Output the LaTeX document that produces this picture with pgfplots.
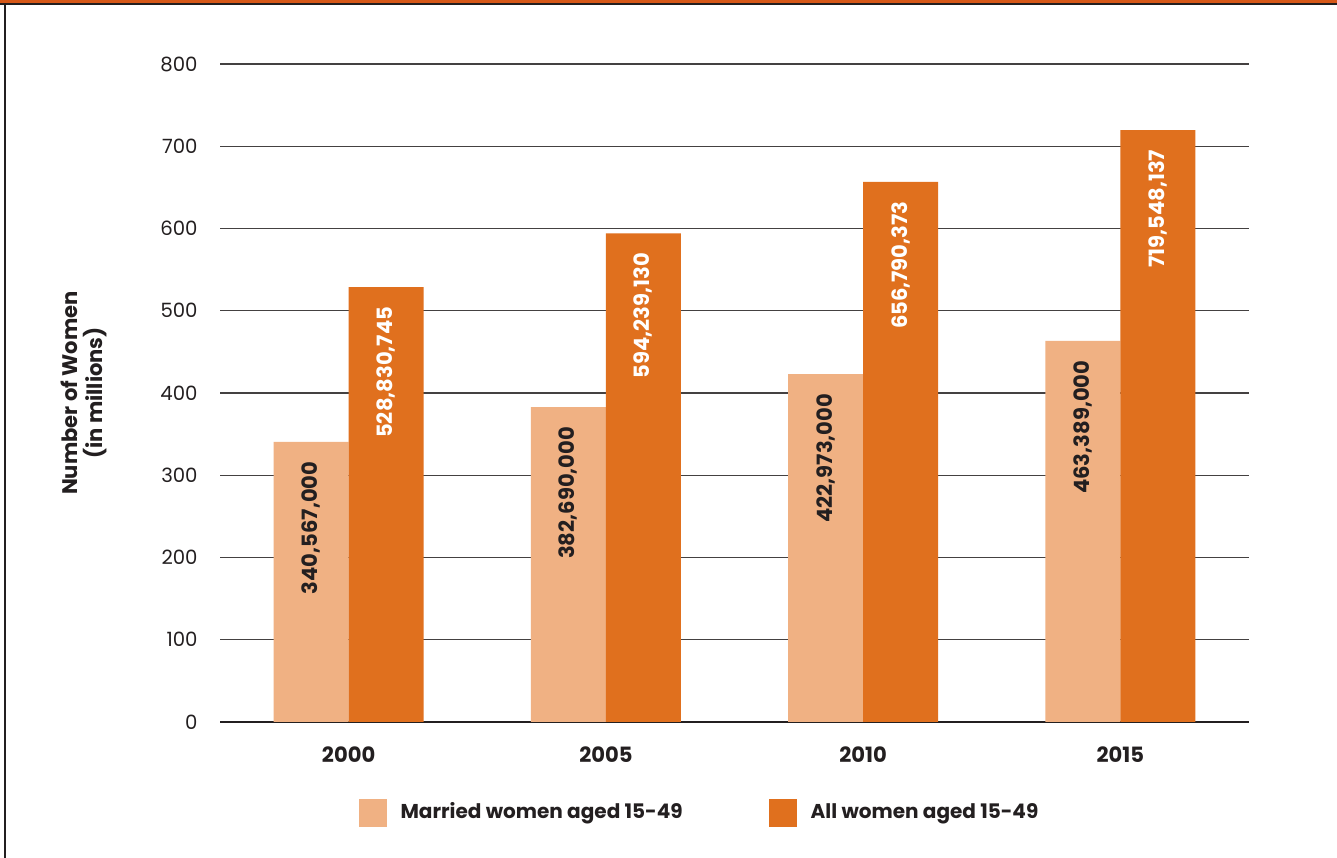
\documentclass[border=0pt]{standalone}
\usepackage{fontspec}
\setmainfont{Poppins}
\usepackage{pgfplots}
\usepackage{pgfplotstable}
\pgfplotsset{compat=1.18}

\definecolor{married}{RGB}{240,177,131}
\definecolor{allw}{RGB}{224,112,30}
\definecolor{ink}{RGB}{35,31,32}
\definecolor{frameorange}{RGB}{214,88,24}

\newcommand{\bfont}{\fontsize{6}{7.2}\selectfont\bfseries}
\newcommand{\lfont}{\fontsize{5.7}{6.8}\selectfont\bfseries}
\newcommand{\tfont}{\fontsize{5.6}{6.7}\selectfont}

% women aged 15-49, in millions, with the exact counts as labels
\pgfplotstableread{
x y lab
0 340.567 340,567,000
1 382.690 382,690,000
2 422.973 422,973,000
3 463.389 463,389,000
}\married
\pgfplotstableread{
x y lab
0 528.830745 528,830,745
1 594.239130 594,239,130
2 656.790373 656,790,373
3 719.548137 719,548,137
}\allwomen

\begin{document}
\begin{tikzpicture}
% page and frame
\fill[white] (0,0) rectangle (133.7mm,85.8mm);
\fill[frameorange] (0,85.52mm) rectangle (133.7mm,85.8mm);
\fill[ink] (0,85.32mm) rectangle (133.7mm,85.52mm);
\fill[ink] (0.38mm,0) rectangle (0.6mm,85.5mm);

\begin{axis}[
  at={(22mm,13.6mm)}, anchor=south west,
  scale only axis, width=102.9mm, height=65.8mm,
  xmin=-0.5, xmax=3.5, ymin=0, ymax=800,
  ybar=0pt, bar width=7.5mm,
  axis x line=bottom, axis y line=left,
  y axis line style={draw=none},
  x axis line style={draw=ink, line width=0.28mm, -},
  major tick length=0pt,
  xtick=data, xticklabels={2000,2005,2010,2015},
  ytick={0,100,...,800},
  ymajorgrids, grid style={draw=ink!85, line width=0.13mm},
  /pgf/number format/assume math mode=true,
  yticklabel style={font=\tfont, text=ink, xshift=-1.0mm},
  xticklabel style={font=\bfont, text=ink, yshift=-1.2mm},
  ylabel={Number of Women\\(in millions)},
  ylabel style={font=\bfont, text=ink, align=center,
    at={(axis description cs:-0.132,0.5)}, anchor=center},
  legend columns=2,
  legend style={draw=none, fill=none, font=\lfont, text=ink,
    at={(axis description cs:0.465,-0.139)}, anchor=center,
    nodes={inner sep=0pt},
    /tikz/every odd column/.append style={column sep=1.4mm},
    /tikz/every even column/.append style={column sep=8.6mm},
    inner sep=0pt},
  nodes near coords,
  point meta=explicit symbolic,
  every node near coord/.append style={rotate=90, anchor=east,
    font=\bfont, inner xsep=1.9mm},
]
\addplot[fill=married, draw=none,
  every node near coord/.append style={text=ink},
  legend image code/.code={\fill[married] (0mm,-1.4mm) rectangle (2.8mm,1.4mm);}]
  table[x=x, y=y, meta=lab] {\married};
\addlegendentry{Married women aged 15-49}
\addplot[fill=allw, draw=none,
  every node near coord/.append style={text=white},
  legend image code/.code={\fill[allw] (0mm,-1.4mm) rectangle (2.8mm,1.4mm);}]
  table[x=x, y=y, meta=lab] {\allwomen};
\addlegendentry{All women aged 15-49}
\end{axis}
\end{tikzpicture}
\end{document}
